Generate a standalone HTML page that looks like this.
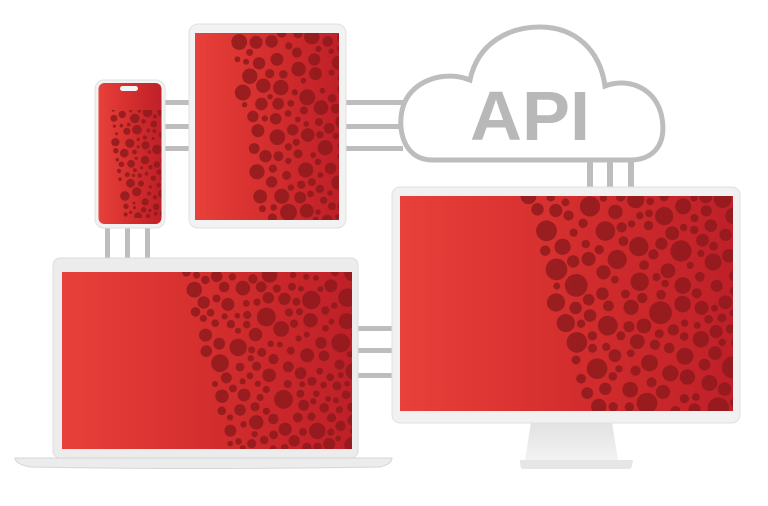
<!DOCTYPE html>
<html><head><meta charset="utf-8"><style>
html,body{margin:0;padding:0;background:#fff;width:768px;height:506px;overflow:hidden}
svg{display:block}
</style></head><body>
<svg id="s" width="768" height="506" viewBox="0 0 768 506" xmlns="http://www.w3.org/2000/svg">
<defs>
<linearGradient id="g" x1="0" y1="0" x2="1" y2="0">
<stop offset="0" stop-color="#e8403a"/><stop offset="0.5" stop-color="#d42e2e"/><stop offset="1" stop-color="#bf2028"/>
</linearGradient>
<linearGradient id="st" x1="0" y1="0" x2="0" y2="1">
<stop offset="0" stop-color="#e2e2e2"/><stop offset="1" stop-color="#f2f2f2"/>
</linearGradient>
</defs>
<g fill="#bdbdbd">
<rect x="164" y="100" width="26" height="5"/><rect x="164" y="124" width="26" height="5"/><rect x="164" y="146" width="26" height="5"/>
<rect x="345" y="100" width="58" height="5"/><rect x="345" y="124" width="58" height="5"/><rect x="345" y="146" width="58" height="5"/>
<rect x="105" y="226" width="5" height="34"/><rect x="125" y="226" width="5" height="34"/><rect x="145" y="226" width="5" height="34"/>
<rect x="587" y="160" width="6" height="28"/><rect x="607" y="160" width="6" height="28"/><rect x="628" y="160" width="6" height="28"/>
<rect x="356" y="326" width="38" height="5"/><rect x="356" y="348" width="38" height="5"/><rect x="356" y="373" width="38" height="5"/>
</g>
<path d="M432 160 C402 160 396 125 404 104 C413 80 445 70 470 80 C478 42 510 27 540 27 C575 27 600 50 605 86 C628 77 657 88 662 118 C667 148 650 160 630 160 Z" fill="#fff" stroke="#bdbdbd" stroke-width="5"/>
<text x="470" y="140" font-family="Liberation Sans Narrow, Liberation Sans, sans-serif" font-weight="bold" font-size="70" fill="#b8b8b8" textLength="120" lengthAdjust="spacingAndGlyphs">API</text>
<rect x="95" y="80" width="70" height="148" rx="9" fill="#f2f2f2" stroke="#e0e0e0"/>
<rect x="98.5" y="83" width="63" height="141" rx="6" fill="url(#g)"/>
<rect x="120" y="86" width="18" height="5" rx="2.5" fill="#f4f4f4"/>
<rect x="189" y="24" width="157" height="204" rx="9" fill="#f2f2f2" stroke="#e0e0e0"/>
<rect x="195" y="33" width="144" height="187" fill="url(#g)"/>
<rect x="53" y="258" width="305" height="200" rx="7" fill="#ececec" stroke="#dcdcdc"/>
<rect x="62" y="272" width="290" height="177" fill="url(#g)"/>
<path d="M15 458 H392 Q392 464 380 467 Q200 470 30 467 Q15 464 15 458 Z" fill="#ececec" stroke="#d6d6d6"/>
<path d="M531 422 H612 L618 460 H525 Z" fill="url(#st)"/>
<path d="M520 460 H633 Q632 468 630 469 H522 Q520 468 520 460 Z" fill="#e6e6e6"/>
<rect x="392" y="187" width="348" height="236" rx="8" fill="#f1f1f1" stroke="#e0e0e0"/>
<rect x="400" y="196" width="333" height="215" fill="url(#g)"/>
<g id="dots" fill="#8f1b1d" opacity="0.85"></g>
</svg>
<script>
(function(){
var seed=11;function r(){seed=(seed*16807)%2147483647;return (seed-1)/2147483646;}
var g=document.getElementById('dots'),ns='http://www.w3.org/2000/svg';
function region(x0,y0,x1,y1,sx,n,rmax){
 var cid='c'+Math.round(x0)+'_'+Math.round(y0);
 var cp=document.createElementNS(ns,'clipPath');cp.setAttribute('id',cid);
 var cr=document.createElementNS(ns,'rect');cr.setAttribute('x',x0);cr.setAttribute('y',y0);cr.setAttribute('width',x1-x0);cr.setAttribute('height',y1-y0);
 cp.appendChild(cr);document.querySelector('defs').appendChild(cp);
 var gg=document.createElementNS(ns,'g');gg.setAttribute('clip-path','url(#'+cid+')');g.appendChild(gg);
 var pts=[];
 for(var i=0;i<n*30 && pts.length<n;i++){
  var y=y0+r()*(y1-y0);
  var t=(y-y0)/(y1-y0);
  var start=sx+(t*0.3)*(x1-sx);
  var x=start+r()*(x1-start+4);
  var rad=rmax*(0.3+0.7*r());
  var ok=true;
  for(var j=0;j<pts.length;j++){var p=pts[j],dx=p[0]-x,dy=p[1]-y;if(Math.sqrt(dx*dx+dy*dy)<p[2]+rad+1.5){ok=false;break;}}
  if(!ok)continue;
  pts.push([x,y,rad]);
  var c=document.createElementNS(ns,'circle');
  c.setAttribute('cx',x.toFixed(1));c.setAttribute('cy',y.toFixed(1));c.setAttribute('r',rad.toFixed(1));
  gg.appendChild(c);
 }
}
region(195,33,339,220,232,150,9);
region(400,196,733,411,525,230,11.5);
region(62,272,352,449,180,240,9.5);
region(98.5,110,161.5,218,110,110,5);
})();
</script>
</body></html>
